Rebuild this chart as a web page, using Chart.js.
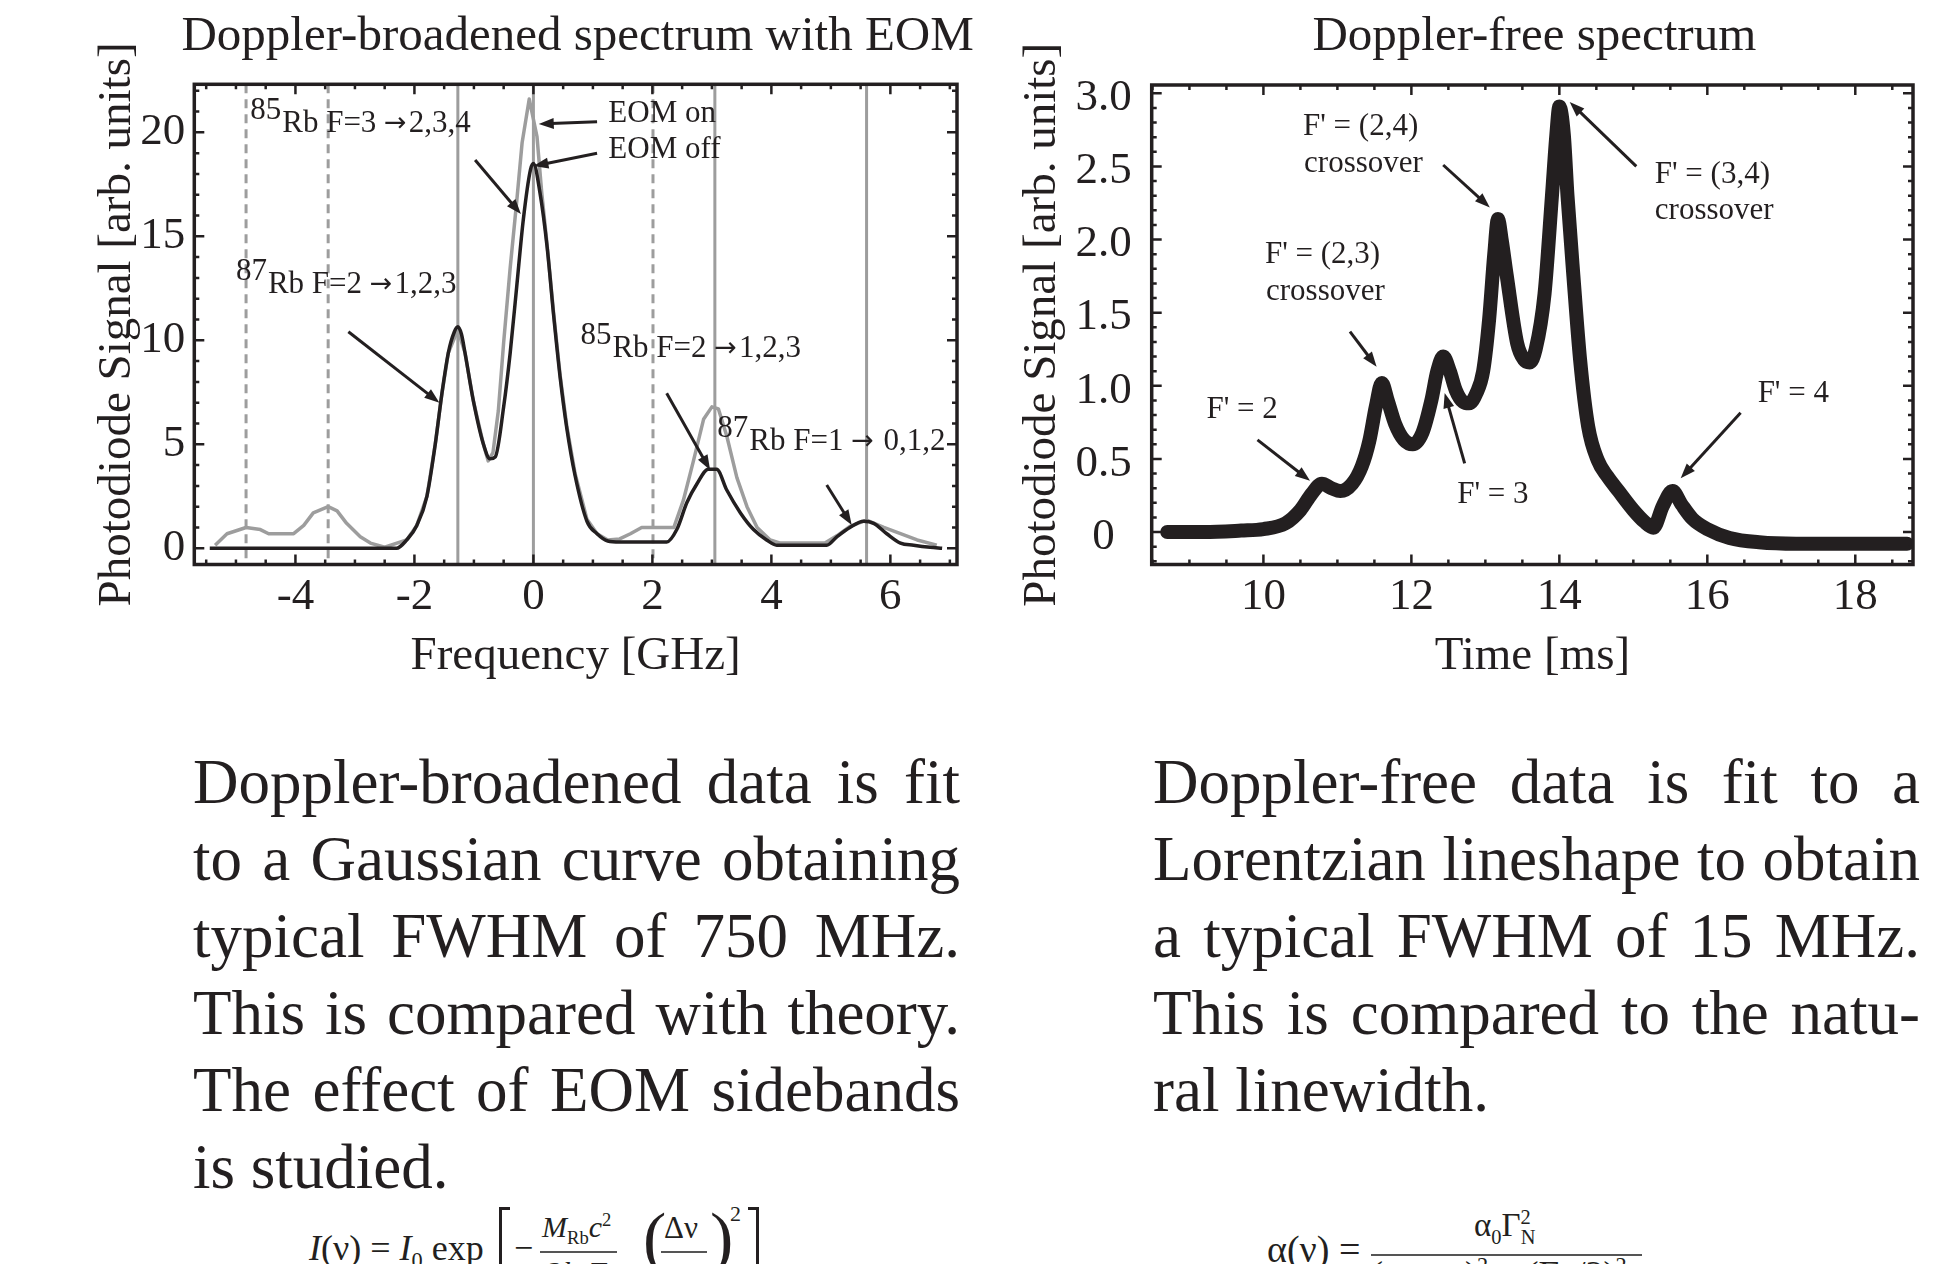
<!DOCTYPE html>
<html>
<head>
<meta charset="utf-8">
<title>Doppler spectra</title>
<script src="https://cdn.jsdelivr.net/npm/chart.js@4.4.1/dist/chart.umd.min.js"></script>
<style>
  html, body { margin: 0; padding: 0; background: #fff; }
  body { position: relative; width: 1954px; height: 1264px; overflow: hidden;
         font-family: "Liberation Serif", "Times New Roman", serif; color: #231f20; }
  canvas { position: absolute; top: 0; }
  #chart-broad { left: 0; }
  #chart-free { left: 980px; }
  .para { position: absolute; top: 744px; width: 767px; font-size: 63px; line-height: 77px; }
  .para div { white-space: nowrap; }
  .para .j { text-align: justify; text-align-last: justify; }
  .eq { position: absolute; white-space: nowrap; line-height: 1; }
  .eq sub, .eq sup { font-size: 62%; line-height: 0; }
  .bar { position: absolute; height: 2px; background: #555; }
  .brk { position: absolute; border-color: #231f20; border-style: solid; }
</style>
</head>
<body>
<canvas id="chart-broad" width="980" height="700"></canvas>
<canvas id="chart-free" width="974" height="700"></canvas>

<div class="para" style="left:193px">
  <div class="j">Doppler-broadened data is fit</div>
  <div class="j">to a Gaussian curve obtaining</div>
  <div class="j">typical FWHM of 750 MHz.</div>
  <div class="j">This is compared  with theory.</div>
  <div class="j">The effect of EOM sidebands</div>
  <div>is studied.</div>
</div>
<div class="para" style="left:1153px">
  <div class="j">Doppler-free data is fit to a</div>
  <div class="j">Lorentzian lineshape to obtain</div>
  <div class="j">a typical FWHM of 15 MHz.</div>
  <div class="j">This is compared to the natu-</div>
  <div>ral linewidth.</div>
</div>

<!-- Gaussian formula (cut by the page edge) -->
<div class="eq" style="left:309px; top:1230px; font-size:36px"><i>I</i>(ν) = <i>I</i><sub>0</sub> exp</div>
<div class="brk" style="left:499px; top:1207px; width:8px; height:80px; border-width:3px 0 0 3px"></div>
<div class="eq" style="left:514px; top:1231px; font-size:34px">−</div>
<div class="eq" style="left:542px; top:1212px; font-size:30px"><i>M</i><sub>Rb</sub><i>c</i><sup>2</sup></div>
<div class="bar" style="left:540px; top:1251px; width:77px"></div>
<div class="eq" style="left:548px; top:1257px; font-size:30px">2<i>k</i><sub>B</sub><i>T</i></div>
<div class="eq" style="left:643px; top:1203px; font-size:70px">(</div>
<div class="eq" style="left:664px; top:1212px; font-size:31px">Δν</div>
<div class="bar" style="left:661px; top:1251px; width:46px"></div>
<div class="eq" style="left:672px; top:1257px; font-size:30px">ν<sub>0</sub></div>
<div class="eq" style="left:710px; top:1203px; font-size:70px">)</div>
<div class="eq" style="left:730px; top:1203px; font-size:22px">2</div>
<div class="brk" style="left:748px; top:1207px; width:8px; height:80px; border-width:3px 3px 0 0"></div>

<!-- Lorentzian formula -->
<div class="eq" style="left:1267px; top:1230px; font-size:38px">α(ν) =</div>
<div class="eq" style="left:1474px; top:1209px; font-size:33px">α<sub>0</sub>Γ<sup>2</sup><sub style="margin-left:-10px">N</sub></div>
<div class="bar" style="left:1371px; top:1254px; width:271px"></div>
<div class="eq" style="left:1371px; top:1256px; font-size:36px">(ν − ν<sub>0</sub>)<sup>2</sup> + (Γ<sub>N</sub>/2)<sup>2</sup></div>

<script>
// ---- Doppler-broadened spectrum (left) ----
const freqEomOff = [-5.44, -2.30, -2.13, -1.96, -1.79, -1.65, -1.54, -1.43, -1.33, -1.27, -1.21, -1.15, -1.01, -0.84,
  -0.73, -0.64, -0.50, -0.39, -0.28, -0.17, -0.05, 0.00, 0.11, 0.23, 0.34, 0.45, 0.56, 0.70, 0.90,
  1.07, 1.25, 1.45, 2.24, 2.41, 2.58, 2.75, 2.94, 3.08, 3.25, 3.48, 3.70, 3.92, 4.09, 4.93, 5.10,
  5.32, 5.55, 5.72, 5.94, 6.17, 6.39, 6.67, 6.87];
const signalEomOff = [0.0, 0.0, 0.4, 1.1, 2.5, 5.0, 7.4, 9.4, 10.4, 10.65, 10.3, 9.4, 7.1, 5.0,
  4.3, 4.4, 6.8, 9.4, 12.6, 15.8, 18.2, 18.5, 17.1, 14.5, 11.2, 8.2, 5.8, 3.5, 1.3,
  0.7, 0.35, 0.3, 0.3, 0.9, 2.2, 3.1, 3.8, 3.8, 2.8, 1.7, 0.9, 0.4, 0.15, 0.15, 0.55,
  1.0, 1.3, 1.2, 0.7, 0.25, 0.15, 0.05, 0.0];

const freqEomOn = [-5.35, -5.15, -4.83, -4.59, -4.45, -4.03, -3.86, -3.70, -3.45, -3.30, -3.14, -2.91,
  -2.74, -2.50, -2.13, -1.96, -1.79, -1.65, -1.54, -1.43, -1.27, -1.15, -1.01, -0.84, -0.76, -0.68,
  -0.59, -0.50, -0.39, -0.28, -0.19, -0.07, 0.06, 0.14, 0.23, 0.34, 0.45, 0.56, 0.70, 0.90, 1.07,
  1.25, 1.45, 1.63, 1.82, 2.36, 2.52, 2.69, 2.86, 3.00, 3.11, 3.25, 3.42, 3.59, 3.76, 3.98, 4.15,
  4.90, 5.10, 5.32, 5.60, 5.89, 6.17, 6.45, 6.78];
const signalEomOn = [0.15, 0.7, 1.0, 0.9, 0.7, 0.7, 1.1, 1.7, 2.0, 1.8, 1.2, 0.55,
  0.25, 0.05, 0.4, 1.1, 2.5, 5.0, 7.4, 9.4, 10.5, 9.4, 7.1, 5.0, 4.2, 4.6,
  6.6, 9.9, 13.5, 16.7, 19.5, 21.6, 19.8, 17.1, 14.6, 11.3, 8.3, 5.9, 3.6, 1.4, 0.7,
  0.4, 0.45, 0.7, 1.0, 1.0, 2.3, 4.2, 6.2, 6.8, 6.7, 5.4, 3.4, 2.0, 1.0, 0.4, 0.25,
  0.25, 0.6, 1.05, 1.35, 1.0, 0.7, 0.4, 0.15];

const solidLines = [-1.27, 0, 3.05, 5.60];
const dashedLines = [-4.83, -3.45, 2.01];
const freqTicks = [-4, -2, 0, 2, 4, 6];
const signalTicks = [0, 5, 10, 15, 20];

// ---- Doppler-free spectrum (right) ----
const timeMs = [8.70, 9.20, 9.70, 10.00, 10.30, 10.50, 10.65, 10.79, 10.92, 11.04, 11.20, 11.33, 11.43,
  11.52, 11.60, 11.68, 11.78, 11.90, 12.02, 12.15, 12.27, 12.35, 12.43, 12.52, 12.60, 12.70, 12.78,
  12.88, 12.97, 13.05, 13.12, 13.17, 13.22, 13.29, 13.43, 13.52, 13.60, 13.68, 13.80, 13.90, 13.96,
  14.00, 14.06, 14.11, 14.19, 14.28, 14.39, 14.52, 14.65, 14.80, 15.00, 15.15, 15.27, 15.40, 15.53,
  15.65, 15.80, 16.00, 16.30, 16.70, 17.20, 17.70, 18.20, 18.70];
const photoSignal = [0.0, 0.0, 0.01, 0.02, 0.06, 0.15, 0.26, 0.33, 0.30, 0.28, 0.33, 0.45, 0.62,
  0.86, 1.02, 0.90, 0.74, 0.63, 0.60, 0.68, 0.90, 1.10, 1.20, 1.10, 0.97, 0.89, 0.88,
  0.95, 1.10, 1.45, 1.90, 2.14, 2.00, 1.75, 1.29, 1.18, 1.16, 1.25, 1.63, 2.30, 2.72,
  2.91, 2.72, 2.30, 1.75, 1.18, 0.72, 0.49, 0.38, 0.28, 0.15, 0.07, 0.03, 0.18, 0.28,
  0.19, 0.09, 0.02, -0.04, -0.07, -0.08, -0.08, -0.08, -0.08];

const timeTicks = [10, 12, 14, 16, 18];
const photoTicks = [0, 0.5, 1, 1.5, 2, 2.5, 3];

const INK = '#231f20';
const GREY = '#9d9d9d';
const SERIF = '"Liberation Serif", "Times New Roman", serif';

Chart.defaults.font.family = SERIF;
Chart.defaults.color = INK;

const toXY = (xs, ys) => xs.map((x, i) => ({ x, y: ys[i] }));

function drawArrow(ctx, x1, y1, x2, y2){
  const ang = Math.atan2(y2 - y1, x2 - x1);
  const len = 15, half = 5.5;
  const cx = Math.cos(ang), sx = Math.sin(ang);
  ctx.beginPath();
  ctx.moveTo(x1, y1);
  ctx.lineTo(x2 - len * 0.8 * cx, y2 - len * 0.8 * sx);
  ctx.stroke();
  ctx.beginPath();
  ctx.moveTo(x2, y2);
  ctx.lineTo(x2 - len * cx + half * sx, y2 - len * sx - half * cx);
  ctx.lineTo(x2 - len * cx - half * sx, y2 - len * sx + half * cx);
  ctx.closePath();
  ctx.fill();
}

// writes a label, the arrow sign "→" taken from a font where it is long enough
function drawLabel(ctx, text, px, py){
  const parts = text.split('→');
  parts.forEach((part, i) => {
    ctx.font = `31px ${SERIF}`;
    ctx.fillText(part, px, py);
    px += ctx.measureText(part).width;
    if (i < parts.length - 1){
      ctx.font = '27px "DejaVu Sans"';
      ctx.fillText('→', px, py - 1);
      px += ctx.measureText('→').width + 2;
    }
  });
}

// frame with inner ticks on every side, reference lines, heading, labels and arrows
const framePlugin = {
  id: 'frame',
  beforeDatasetsDraw(chart, args, opts){
    const { ctx, chartArea: a, scales: { x } } = chart;
    ctx.save();
    ctx.strokeStyle = GREY;
    ctx.lineWidth = 3;
    (opts.solid || []).forEach(v => {
      const px = x.getPixelForValue(v);
      ctx.beginPath(); ctx.moveTo(px, a.top); ctx.lineTo(px, a.bottom); ctx.stroke();
    });
    ctx.setLineDash([9, 6]);
    (opts.dashed || []).forEach(v => {
      const px = x.getPixelForValue(v);
      ctx.beginPath(); ctx.moveTo(px, a.top); ctx.lineTo(px, a.bottom); ctx.stroke();
    });
    ctx.restore();
  },
  afterDatasetsDraw(chart, args, opts){
    const { ctx, chartArea: a, scales: { x, y } } = chart;
    ctx.save();
    ctx.strokeStyle = INK;
    ctx.fillStyle = INK;

    // heading, centred on the plot box and free to be wider than it
    if (opts.heading){
      ctx.font = `49px ${SERIF}`;
      ctx.textAlign = 'center';
      ctx.textBaseline = 'alphabetic';
      ctx.fillText(opts.heading, (a.left + a.right) / 2 + 2, 50);
      ctx.textAlign = 'left';
    }

    // ticks
    ctx.lineWidth = 2.5;
    const marks = (scale, minor, major, cb) => {
      for (let k = Math.ceil(scale.min / minor); k * minor <= scale.max + 1e-9; k++){
        const v = k * minor;
        const isMajor = Math.abs(v / major - Math.round(v / major)) < 1e-6;
        cb(scale.getPixelForValue(v), isMajor ? 10 : 5);
      }
    };
    ctx.beginPath();
    marks(x, opts.xMinor, opts.xMajor, (px, l) => {
      ctx.moveTo(px, a.bottom); ctx.lineTo(px, a.bottom - l);
      ctx.moveTo(px, a.top); ctx.lineTo(px, a.top + l);
    });
    marks(y, opts.yMinor, opts.yMajor, (py, l) => {
      ctx.moveTo(a.left, py); ctx.lineTo(a.left + l, py);
      ctx.moveTo(a.right, py); ctx.lineTo(a.right - l, py);
    });
    ctx.stroke();

    ctx.lineWidth = 3.5;
    ctx.strokeRect(a.left, a.top, a.right - a.left, a.bottom - a.top);

    // arrows
    ctx.lineWidth = 3;
    (opts.arrows || []).forEach(ar => {
      drawArrow(ctx, x.getPixelForValue(ar.from[0]), y.getPixelForValue(ar.from[1]),
                     x.getPixelForValue(ar.to[0]), y.getPixelForValue(ar.to[1]));
    });

    // labels
    ctx.textBaseline = 'alphabetic';
    (opts.labels || []).forEach(lb => {
      let px = x.getPixelForValue(lb.x);
      const py = y.getPixelForValue(lb.y);
      ctx.font = `31px ${SERIF}`;
      if (lb.sup){
        ctx.fillText(lb.sup, px, py - 13);
        px += ctx.measureText(lb.sup).width + 1;
      }
      drawLabel(ctx, lb.text, px, py);
    });
    ctx.restore();
  }
};

const tickFont = { family: SERIF, size: 45 };
const axisFont = { family: SERIF, size: 47, weight: 'normal' };

new Chart(document.getElementById('chart-broad'), {
  type: 'line',
  data: {
    datasets: [
      { label: 'EOM off', data: toXY(freqEomOff, signalEomOff), borderColor: INK, borderWidth: 3.5,
        pointRadius: 0, cubicInterpolationMode: 'monotone', borderJoinStyle: 'round' },
      { label: 'EOM on', data: toXY(freqEomOn, signalEomOn), borderColor: GREY, borderWidth: 3.5,
        pointRadius: 0, tension: 0, borderJoinStyle: 'round' }
    ]
  },
  options: {
    responsive: false,
    animation: false,
    events: [],
    layout: { padding: { left: 0, right: 23, top: 84.3, bottom: 0 } },
    plugins: {
      legend: { display: false },
      tooltip: { enabled: false },
      title: { display: false },
      frame: {
        heading: 'Doppler-broadened spectrum with EOM',
        solid: solidLines, dashed: dashedLines,
        xMinor: 0.5, xMajor: 2, yMinor: 1, yMajor: 5,
        labels: [
          { x: -4.76, y: 20.01, sup: '85', text: 'Rb F=3 →2,3,4' },
          { x: -5.00, y: 12.27, sup: '87', text: 'Rb F=2 →1,2,3' },
          { x: 1.26, y: 20.5, text: 'EOM on' },
          { x: 1.26, y: 18.76, text: 'EOM off' },
          { x: 0.79, y: 9.2, sup: '85', text: 'Rb F=2 →1,2,3' },
          { x: 3.09, y: 4.73, sup: '87', text: 'Rb F=1 → 0,1,2' }
        ],
        arrows: [
          { from: [-0.98, 18.67], to: [-0.21, 16.07] },
          { from: [1.07, 20.51], to: [0.09, 20.4] },
          { from: [1.07, 18.99], to: [0.0, 18.38] },
          { from: [-3.11, 10.41], to: [-1.58, 7.0] },
          { from: [2.24, 7.45], to: [2.97, 3.76] },
          { from: [4.93, 3.04], to: [5.35, 1.12] }
        ]
      }
    },
    scales: {
      x: {
        type: 'linear', min: -5.70, max: 7.12,
        afterBuildTicks: s => { s.ticks = freqTicks.map(value => ({ value })); },
        afterFit: s => { s.height = 135.5; },
        grid: { display: false, drawTicks: false, tickLength: 0 },
        border: { display: false },
        ticks: { font: tickFont, color: INK, padding: 6, maxRotation: 0 },
        title: { display: true, text: 'Frequency [GHz]', font: axisFont, color: INK,
                 padding: { top: 0, bottom: 14.8 } }
      },
      y: {
        type: 'linear', min: -0.78, max: 22.31,
        afterBuildTicks: s => { s.ticks = signalTicks.map(value => ({ value })); },
        afterFit: s => { s.width = 194.3; },
        grid: { display: false, drawTicks: false, tickLength: 0 },
        border: { display: false },
        ticks: { font: tickFont, color: INK, padding: 9 },
        title: { display: true, text: 'Photodiode Signal [arb. units]', font: axisFont, color: INK,
                 padding: { top: 89, bottom: 0 } }
      }
    }
  },
  plugins: [framePlugin]
});

new Chart(document.getElementById('chart-free'), {
  type: 'line',
  data: {
    datasets: [
      { label: 'Doppler-free', data: toXY(timeMs, photoSignal), borderColor: INK, borderWidth: 14,
        pointRadius: 0, cubicInterpolationMode: 'monotone', borderJoinStyle: 'round', borderCapStyle: 'round' }
    ]
  },
  options: {
    responsive: false,
    animation: false,
    events: [],
    layout: { padding: { left: 0, right: 41, top: 85, bottom: 0 } },
    plugins: {
      legend: { display: false },
      tooltip: { enabled: false },
      title: { display: false },
      frame: {
        heading: 'Doppler-free spectrum',
        xMinor: 0.5, xMajor: 2, yMinor: 0.1, yMajor: 0.5,
        labels: [
          { x: 10.535, y: 2.715, text: "F' = (2,4)" },
          { x: 10.55, y: 2.462, text: 'crossover' },
          { x: 10.02, y: 1.84, text: "F' = (2,3)" },
          { x: 10.035, y: 1.587, text: 'crossover' },
          { x: 9.23, y: 0.78, text: "F' = 2" },
          { x: 12.62, y: 0.198, text: "F' = 3" },
          { x: 15.29, y: 2.387, text: "F' = (3,4)" },
          { x: 15.29, y: 2.14, text: 'crossover' },
          { x: 16.68, y: 0.89, text: "F' = 4" }
        ],
        arrows: [
          { from: [12.43, 2.51], to: [13.06, 2.22] },
          { from: [11.17, 1.37], to: [11.53, 1.13] },
          { from: [9.92, 0.63], to: [10.63, 0.35] },
          { from: [12.72, 0.47], to: [12.45, 0.95] },
          { from: [15.04, 2.50], to: [14.14, 2.94] },
          { from: [16.45, 0.816], to: [15.64, 0.367] }
        ]
      }
    },
    scales: {
      x: {
        type: 'linear', min: 8.49, max: 18.78,
        afterBuildTicks: s => { s.ticks = timeTicks.map(value => ({ value })); },
        afterFit: s => { s.height = 135.5; },
        grid: { display: false, drawTicks: false, tickLength: 0 },
        border: { display: false },
        ticks: { font: tickFont, color: INK, padding: 6, maxRotation: 0 },
        title: { display: true, text: 'Time [ms]', font: axisFont, color: INK,
                 padding: { top: 0, bottom: 14.8 } }
      },
      y: {
        type: 'linear', min: -0.222, max: 3.057,
        afterBuildTicks: s => { s.ticks = photoTicks.map(value => ({ value })); },
        afterFit: s => { s.width = 171.7; },
        grid: { display: false, drawTicks: false, tickLength: 0 },
        border: { display: false },
        ticks: { font: tickFont, color: INK, padding: 20, crossAlign: 'center', labelOffset: 5,
                 callback: v => v === 0 ? '0' : v.toFixed(1) },
        title: { display: true, text: 'Photodiode Signal [arb. units]', font: axisFont, color: INK,
                 padding: { top: 34, bottom: 0 } }
      }
    }
  },
  plugins: [framePlugin]
});
</script>
</body>
</html>
